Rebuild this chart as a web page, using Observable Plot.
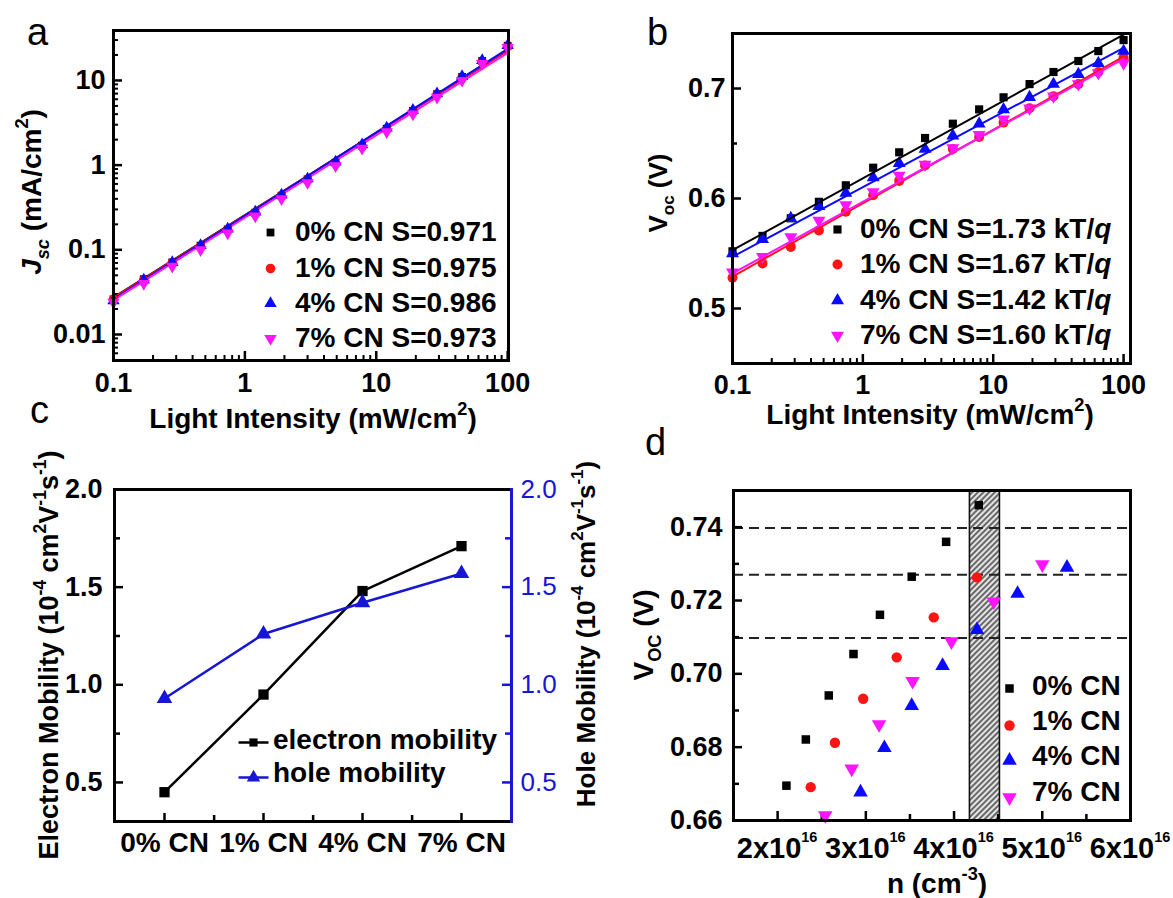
<!DOCTYPE html>
<html>
<head>
<meta charset="utf-8">
<script src="https://cdn.jsdelivr.net/npm/d3@7"></script>
<script src="https://cdn.jsdelivr.net/npm/@observablehq/plot@0.6"></script>
<style>
  html, body { margin: 0; padding: 0; background: #fff; }
  #fig { position: relative; width: 1173px; height: 898px; overflow: hidden; background: #fff; }
  .panel { position: absolute; }
  #overlay text { white-space: pre; }
</style>
</head>
<body>
<div id="fig"></div>
<script>
// ---------------- data ----------------
const series = ["0% CN", "1% CN", "4% CN", "7% CN"];

// panel a / b : light intensity (mW/cm2)
const intensity = [0.1, 0.17, 0.28, 0.46, 0.74, 1.2, 1.9, 3.0, 4.9, 7.8, 12, 19, 29, 45, 64, 100];

// panel a : Jsc (mA/cm2)
const jsc0 = [0.026, 0.045, 0.071, 0.112, 0.174, 0.275, 0.436, 0.68, 1.07, 1.70, 2.69, 4.37, 6.9, 11.0, 17.0, 25.7];
const jsc1 = [0.026, 0.044, 0.070, 0.110, 0.171, 0.270, 0.430, 0.67, 1.05, 1.67, 2.64, 4.30, 6.8, 10.8, 16.7, 25.3];
const jsc4 = [0.025, 0.044, 0.071, 0.113, 0.176, 0.280, 0.445, 0.69, 1.09, 1.74, 2.75, 4.45, 7.0, 11.2, 17.3, 26.0];
const jsc7 = [0.024, 0.040, 0.064, 0.100, 0.158, 0.250, 0.400, 0.62, 0.98, 1.58, 2.48, 4.00, 6.3, 10.0, 15.8, 24.5];
const slopeJsc = ["0.971", "0.975", "0.986", "0.973"];
const fitJscStart = [0.0275, 0.027, 0.026, 0.0255];
const fitJscEnd = [22.5, 22.7, 23.6, 21.2];

// panel b : Voc (V)
const voc0 = [0.552, 0.566, 0.582, 0.597, 0.612, 0.628, 0.642, 0.655, 0.668, 0.681, 0.692, 0.704, 0.715, 0.725, 0.734, 0.744];
const voc1 = [0.528, 0.541, 0.556, 0.571, 0.588, 0.603, 0.616, 0.630, 0.645, 0.656, 0.669, 0.682, 0.693, 0.704, 0.715, 0.728];
const voc4 = [0.550, 0.563, 0.582, 0.593, 0.605, 0.619, 0.632, 0.645, 0.657, 0.668, 0.681, 0.692, 0.704, 0.713, 0.723, 0.734];
const voc7 = [0.533, 0.547, 0.565, 0.580, 0.594, 0.606, 0.621, 0.631, 0.646, 0.658, 0.672, 0.682, 0.693, 0.704, 0.714, 0.723];
const slopeVoc = ["1.73", "1.67", "1.42", "1.60"];
const fitVocStart = [0.553, 0.529, 0.547, 0.532];
const fitVocEnd = [0.749, 0.729, 0.737, 0.727];

// panel c : mobility (1e-4 cm2/Vs)
const additive = ["0% CN", "1% CN", "4% CN", "7% CN"];
const electronMobility = [0.45, 0.95, 1.48, 1.71];
const holeMobility = [0.93, 1.26, 1.42, 1.57];

// panel d : carrier density n (x1e16 cm-3) vs Voc (V)
const nCarrier0 = [2.10, 2.32, 2.58, 2.86, 3.16, 3.52, 3.91, 4.28];
const vocD0 = [0.6695, 0.6821, 0.6941, 0.7054, 0.7161, 0.7265, 0.7360, 0.7460];
const nCarrier1 = [2.375, 2.65, 2.97, 3.35, 3.77, 4.26];
const vocD1 = [0.6691, 0.6812, 0.6932, 0.7045, 0.7154, 0.7263];
const nCarrier4 = [2.94, 3.21, 3.52, 3.87, 4.26, 4.72, 5.28];
const vocD4 = [0.6677, 0.6798, 0.6913, 0.7022, 0.7120, 0.7219, 0.7290];
const nCarrier7 = [2.54, 2.84, 3.15, 3.53, 3.97, 4.45, 5.00];
const vocD7 = [0.6614, 0.6741, 0.6862, 0.6980, 0.7088, 0.7197, 0.7298];
const dashedVoc = [0.7398, 0.7270, 0.7098];
const shadedN = [4.18, 4.52];

// tick values
const logTicksX = [0.1, 1, 10, 100];
const logTicksYa = [0.01, 0.1, 1, 10];
const ticksYb = [0.5, 0.6, 0.7];
const minorYb = [0.55, 0.65];
const ticksYc = [0.5, 1.0, 1.5, 2.0];
const minorYc = [0.75, 1.25, 1.75];
const ticksXd = [2, 3, 4, 5, 6];
const minorXd = [2.5, 3.5, 4.5, 5.5];
const ticksYd = [0.66, 0.68, 0.70, 0.72, 0.74];
const minorYd = [0.67, 0.69, 0.71, 0.73];

// ---------------- styles ----------------
const FONT = "'Liberation Sans', Arial, Helvetica, sans-serif";
const colorsS = ["#000000", "#ff1414", "#0a0aff", "#ff14ff"];
const symbolsS = ["square", "circle", "triangle", "triangle"];
const rotateS = [0, 0, 0, 180];
const BLUE_C = "#1616d4";

function minorLog(lo, hi) {
  const out = [];
  for (let e = Math.floor(Math.log10(lo)); e <= Math.ceil(Math.log10(hi)); e++)
    for (let m = 2; m <= 9; m++) { const v = m * Math.pow(10, e); if (v > lo && v < hi) out.push(v); }
  return out;
}
const rows = (xs, ys) => xs.map((x, i) => ({x, y: ys[i]}));
const labelStyle = {fontSize: 27, fontWeight: "bold", fontFamily: FONT, label: null};

// inward tick marks: full-frame ticks inset so only a short piece at the edge remains
function makeTicks(P) {
  const pw = P.w - P.ml - P.mr, ph = P.h - P.mt - P.mb;
  return {
    x: (values, len, opts = {}) => Plot.tickX(values, {x: d => d, insetTop: ph - len, stroke: "#000", strokeWidth: 2.5, ...opts}),
    yl: (values, len, opts = {}) => Plot.tickY(values, {y: d => d, insetRight: pw - len, stroke: "#000", strokeWidth: 2.5, ...opts}),
    yr: (values, len, opts = {}) => Plot.tickY(values, {y: d => d, insetLeft: pw - len, stroke: "#000", strokeWidth: 2.5, ...opts})
  };
}

function legendDots(ml, mt, cx, cys, rs) {
  return series.map((s, i) => Plot.dot([s], {
    frameAnchor: "top-left", dx: cx - ml, dy: cys[i] - mt,
    symbol: symbolsS[i], rotate: rotateS[i], r: rs[i], fill: colorsS[i]
  }));
}

const fig = document.getElementById("fig");
function place(svg, left, top) {
  const div = document.createElement("div");
  div.className = "panel";
  div.style.left = left + "px";
  div.style.top = top + "px";
  div.style.width = svg.getAttribute("width") + "px";
  div.appendChild(svg);
  fig.appendChild(div);
}

// ---------------- panel a ----------------
const A = {w: 580, h: 440, ml: 113, mr: 72, mt: 30, mb: 80};
const tA = makeTicks(A);
const rA = [4.4, 4.8, 4.6, 4.6];
const jscSeries = [jsc0, jsc1, jsc4, jsc7];
const svgA = Plot.plot({
  width: A.w, height: A.h, marginLeft: A.ml, marginRight: A.mr, marginTop: A.mt, marginBottom: A.mb,
  x: {type: "log", domain: [0.1, 101.5]},
  y: {type: "log", domain: [0.00493, 38.9]},
  marks: [
    Plot.axisX(logTicksX, {tickSize: 0, tickPadding: 12, tickFormat: d => String(d), ...labelStyle}),
    tA.x(logTicksX, 9),
    tA.x(minorLog(0.1, 101), 5, {strokeWidth: 2}),
    Plot.axisY(logTicksYa, {tickSize: 0, tickPadding: 8, tickFormat: d => String(d), ...labelStyle}),
    tA.yl(logTicksYa, 9),
    tA.yl(minorLog(0.005, 38), 5, {strokeWidth: 2}),
    ...series.map((s, i) => Plot.line(
      [{x: intensity[0], y: fitJscStart[i]}, {x: intensity[intensity.length - 1], y: fitJscEnd[i]}],
      {x: "x", y: "y", stroke: colorsS[i], strokeWidth: 2})),
    ...jscSeries.map((ys, i) => Plot.dot(rows(intensity, ys), {
      x: "x", y: "y", symbol: symbolsS[i], rotate: rotateS[i], r: rA[i], fill: colorsS[i]})),
    Plot.frame({strokeWidth: 3}),
    ...legendDots(A.ml, A.mt, 270, [232, 268, 303, 338], rA)
  ]
});
place(svgA, 0, 0);

// ---------------- panel b ----------------
const B = {w: 593, h: 440, ml: 152, mr: 43, mt: 33, mb: 77};
const tB = makeTicks(B);
const rB = [4.6, 5, 4.8, 4.8];
const vocSeries = [voc0, voc1, voc4, voc7];
const svgB = Plot.plot({
  width: B.w, height: B.h, marginLeft: B.ml, marginRight: B.mr, marginTop: B.mt, marginBottom: B.mb,
  x: {type: "log", domain: [0.1, 113]},
  y: {domain: [0.45, 0.75]},
  marks: [
    Plot.axisX(logTicksX, {tickSize: 0, tickPadding: 11, tickFormat: d => String(d), ...labelStyle}),
    tB.x(logTicksX, 9),
    tB.x(minorLog(0.1, 112), 5, {strokeWidth: 2}),
    Plot.axisY(ticksYb, {tickSize: 0, tickPadding: 7, tickFormat: d3.format(".1f"), ...labelStyle}),
    tB.yl(ticksYb, 9),
    tB.yl(minorYb, 5),
    ...vocSeries.map((ys, i) => Plot.dot(rows(intensity, ys), {
      x: "x", y: "y", symbol: symbolsS[i], rotate: rotateS[i], r: rB[i], fill: colorsS[i]})),
    ...series.map((s, i) => Plot.line(
      [{x: intensity[0], y: fitVocStart[i]}, {x: intensity[intensity.length - 1], y: fitVocEnd[i]}],
      {x: "x", y: "y", stroke: colorsS[i], strokeWidth: 2})),
    Plot.frame({strokeWidth: 3}),
    ...legendDots(B.ml, B.mt, 257, [229, 264, 300, 335], rB)
  ]
});
place(svgB, 580, 0);

// ---------------- panel c ----------------
const C = {w: 620, h: 458, ml: 114, mr: 109, mt: 49, mb: 77};
const tC = makeTicks(C);
const stepC = (C.w - C.ml - C.mr) / additive.length;
const lineSym = {draw(ctx) { ctx.moveTo(-15, 0); ctx.lineTo(15, 0); }};
const svgC = Plot.plot({
  width: C.w, height: C.h, marginLeft: C.ml, marginRight: C.mr, marginTop: C.mt, marginBottom: C.mb,
  x: {type: "point", domain: additive, padding: 0.5},
  y: {domain: [0.3, 2.0]},
  marks: [
    Plot.axisX(additive, {tickSize: 0, tickPadding: 11, ...labelStyle, fontSize: 28}),
    tC.x(additive, 8),
    tC.x(additive.slice(0, 3), 6, {dx: stepC / 2}),
    Plot.axisY(ticksYc, {anchor: "left", tickSize: 0, tickPadding: 12, tickFormat: d3.format(".1f"), ...labelStyle}),
    tC.yl(ticksYc, 9),
    tC.yl(minorYc, 6),
    Plot.axisY(ticksYc, {anchor: "right", tickSize: 0, tickPadding: 9, tickFormat: d3.format(".1f"),
      fontSize: 26, fontWeight: "normal", fontFamily: FONT, color: BLUE_C, label: null}),
    tC.yr(ticksYc, 9, {stroke: BLUE_C}),
    tC.yr(minorYc, 6, {stroke: BLUE_C}),
    Plot.line(rows(additive, electronMobility), {x: "x", y: "y", stroke: "#000", strokeWidth: 2.5}),
    Plot.line(rows(additive, holeMobility), {x: "x", y: "y", stroke: BLUE_C, strokeWidth: 2.5}),
    Plot.dot(rows(additive, electronMobility), {x: "x", y: "y", symbol: "square", r: 5.8, fill: "#000"}),
    Plot.dot(rows(additive, holeMobility), {x: "x", y: "y", symbol: "triangle", r: 5.8, fill: BLUE_C}),
    Plot.frame({strokeWidth: 3}),
    Plot.frame({anchor: "right", stroke: BLUE_C, strokeWidth: 3}),
    // legend
    Plot.dot(["electron mobility"], {frameAnchor: "top-left", dx: 253 - C.ml, dy: 302 - C.mt, symbol: lineSym, stroke: "#000", strokeWidth: 2.5, fill: "none"}),
    Plot.dot(["electron mobility"], {frameAnchor: "top-left", dx: 253 - C.ml, dy: 302 - C.mt, symbol: "square", r: 4.6, fill: "#000"}),
    Plot.dot(["hole mobility"], {frameAnchor: "top-left", dx: 253 - C.ml, dy: 337 - C.mt, symbol: lineSym, stroke: BLUE_C, strokeWidth: 2.5, fill: "none"}),
    Plot.dot(["hole mobility"], {frameAnchor: "top-left", dx: 253 - C.ml, dy: 337 - C.mt, symbol: "triangle", r: 5, fill: BLUE_C})
  ]
});
place(svgC, 0, 440);

// ---------------- panel d ----------------
const D = {w: 553, h: 458, ml: 113, mr: 43, mt: 50, mb: 78};
const tD = makeTicks(D);
const rD = [4.8, 5.2, 5.4, 5.4];
const dSeries = [rows(nCarrier0, vocD0), rows(nCarrier1, vocD1), rows(nCarrier4, vocD4), rows(nCarrier7, vocD7)];
const svgD = Plot.plot({
  width: D.w, height: D.h, marginLeft: D.ml, marginRight: D.mr, marginTop: D.mt, marginBottom: D.mb,
  x: {domain: [1.5, 6], axis: null},
  y: {domain: [0.66, 0.75]},
  marks: [
    Plot.rect([shadedN], {x1: d => d[0], x2: d => d[1], fill: "url(#hatchD)", stroke: "#111", strokeWidth: 1.6}),
    Plot.ruleY(dashedVoc, {stroke: "#222", strokeWidth: 2, strokeDasharray: "10,6"}),
    tD.x(ticksXd, 9),
    tD.x(minorXd, 6),
    Plot.axisY(ticksYd, {tickSize: 0, tickPadding: 11, tickFormat: d3.format(".2f"), ...labelStyle}),
    tD.yl(ticksYd, 9),
    tD.yl(minorYd, 6),
    ...dSeries.map((pts, i) => Plot.dot(pts, {
      x: "x", y: "y", symbol: symbolsS[i], rotate: rotateS[i], r: rD[i], fill: colorsS[i]})),
    Plot.frame({strokeWidth: 3}),
    ...legendDots(D.ml, D.mt, 389, [248, 285, 320, 357], rD)
  ]
});
{
  const defs = d3.select(svgD).insert("defs", ":first-child");
  const pat = defs.append("pattern").attr("id", "hatchD").attr("patternUnits", "userSpaceOnUse")
    .attr("width", 4).attr("height", 4).attr("patternTransform", "rotate(45)");
  pat.append("rect").attr("width", 4).attr("height", 4).attr("fill", "#e4e4e4");
  pat.append("line").attr("x1", 2).attr("y1", 0).attr("x2", 2).attr("y2", 4).attr("stroke", "#4a4a4a").attr("stroke-width", 1.6);
}
place(svgD, 620, 440);

// ---------------- overlay text (rich labels) ----------------
const overlay = d3.select(fig).append("svg").attr("id", "overlay")
  .attr("width", 1173).attr("height", 898)
  .style("position", "absolute").style("left", "0px").style("top", "0px").style("pointer-events", "none");

function rich(x, y, parts, {size = 28, weight = "bold", anchor = "start", rotate = 0, fill = "#000", supShift = 0.45, subShift = 0.28, small = 0.65} = {}) {
  const t = overlay.append("text")
    .attr("transform", `translate(${x},${y})` + (rotate ? ` rotate(${rotate})` : ""))
    .attr("text-anchor", anchor).attr("font-family", FONT).attr("font-size", size)
    .attr("font-weight", weight).attr("fill", fill);
  let shift = 0;
  for (const p of parts) {
    const [str, kind, italic] = Array.isArray(p) ? p : [p];
    const off = kind === "sub" ? subShift * size : kind === "sup" ? -supShift * size : 0;
    t.append("tspan").text(str).attr("dy", off - shift)
      .attr("font-size", kind ? small * size : size)
      .attr("font-style", italic ? "italic" : null);
    shift = off;
  }
  return t;
}

// panel letters
rich(27, 45, ["a"], {size: 38, weight: "normal"});
rich(647, 45, ["b"], {size: 38, weight: "normal"});
rich(30, 423, ["c"], {size: 38, weight: "normal"});
rich(645, 455, ["d"], {size: 38, weight: "normal"});

// axis titles
rich(41, 192, [["J", null, true], ["sc", "sub", true], " (mA/cm", ["2", "sup"], ")"], {anchor: "middle", rotate: -90});
rich(313, 428, ["Light Intensity (mW/cm", ["2", "sup"], ")"], {anchor: "middle"});
rich(667, 193, ["V", ["oc", "sub"], " (V)"], {anchor: "middle", rotate: -90, size: 26});
rich(930, 424, ["Light Intensity (mW/cm", ["2", "sup"], ")"], {anchor: "middle"});
rich(58, 655, ["Electron Mobility (10", ["-4", "sup"], " cm", ["2", "sup"], "V", ["-1", "sup"], "s", ["-1", "sup"], ")"], {anchor: "middle", rotate: -90, size: 27});
rich(595, 634, ["Hole Mobility (10", ["-4", "sup"], " cm", ["2", "sup"], "V", ["-1", "sup"], "s", ["-1", "sup"], ")"], {anchor: "middle", rotate: -90, size: 26});
rich(653, 635, ["V", ["OC", "sub"], " (V)"], {anchor: "middle", rotate: -90, size: 28});
rich(937, 893, ["n (cm", ["-3", "sup"], ")"], {anchor: "middle"});

// panel d x tick labels (with superscript)
{
  const sx = svgD.scale("x");
  ticksXd.forEach(v => rich(620 + sx.apply(v), 858, [`${v}x10`, ["16", "sup"]], {anchor: "middle", size: 29, supShift: 0.55, small: 0.5}));
}

// legends
const legendA = series.map((s, i) => `${s} S=${slopeJsc[i]}`);
[241, 277, 312, 347].forEach((y, i) => rich(295, y, [legendA[i]]));
[238, 273, 309, 344].forEach((y, i) => rich(860, y, [`${series[i]} S=${slopeVoc[i]} kT/`, ["q", null, true]]));
rich(273, 749, ["electron mobility"]);
rich(273, 782, ["hole mobility"]);
[695, 730, 765, 801].forEach((y, i) => rich(1032, y, [series[i]]));
</script>
</body>
</html>
